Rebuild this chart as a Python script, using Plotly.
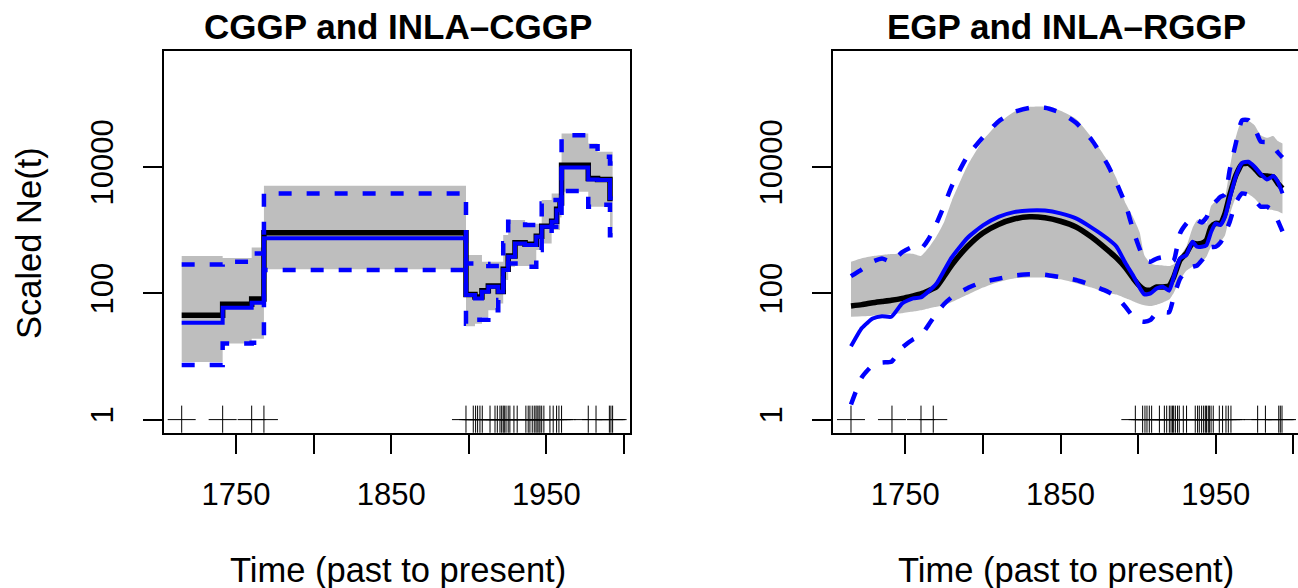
import numpy as np
import plotly.graph_objects as go

W, H = 1298, 588

# ---------------------------------------------------------------- data
# sampling / coalescent times shown as "+" marks at Ne = 1
event_times = [1715.0, 1741.4, 1760.1, 1768.0,
               1898.2, 1902.9, 1904.4, 1905.7, 1907.2, 1908.7, 1913.7, 1916.9, 1918.4,
               1920.1, 1921.2, 1922.2, 1922.9, 1924.0, 1925.4, 1926.5, 1929.1, 1931.2,
               1936.8, 1938.3, 1939.4, 1940.9, 1942.2, 1943.3, 1944.1, 1945.2, 1945.9,
               1947.0, 1948.4, 1952.3, 1954.4, 1956.6, 1958.1, 1959.8,
               1977.0, 1982.0, 1990.6, 1991.6, 1992.7]

# left panel: piecewise-constant estimates (change points and value on each interval)
step_times = [1715.0, 1741.4, 1760.1, 1768.0, 1898.2, 1904.0, 1908.5, 1912.6, 1919.0,
              1922.2, 1925.4, 1929.8, 1936.3, 1943.5, 1947.0, 1953.4, 1956.6, 1958.8,
              1959.8, 1977.0, 1983.0, 1991.0, 1992.7]
cggp_median = [45, 67, 81, 906, 96, 87, 110, 130, 107, 240, 390, 630, 596, 800, 1150,
               1380, 2140, 2690, 10670, 6580, 6300, 3160]
cggp_lower = [8.2, 16, 19, 239, 30, 33, 42, 54, 69, 162, 262, 269, 269, 483, 615, 1000,
              1000, 1585, 4040, 2340, 2340, 783]
cggp_upper = [388, 363, 532, 5020, 402, 402, 315, 315, 315, 834, 1440, 1440, 1260, 1260,
              2985, 3800, 3800, 3800, 33900, 23550, 17340, 17340]
inla_cggp_median = [34, 59, 71, 740, 94, 83, 106, 127, 106, 233, 378, 615, 580, 783, 1127,
                    1352, 2070, 2640, 9820, 6310, 6180, 3180]
inla_cggp_lower = [7.3, 16, 16.5, 233, 33, 38, 38, 54, 78, 172, 297, 297, 263, 483, 740,
                   1127, 1127, 1585, 4140, 2340, 2510, 832]
inla_cggp_upper = [286, 315, 428, 3810, 295, 290, 290, 269, 269, 617, 1352, 1352, 1200,
                   1200, 2640, 2985, 2985, 2985, 31840, 21330, 14450, 11350]

# right panel: smooth estimates, given as log10(Ne) on a time grid
years_r = [1715, 1722, 1729, 1735, 1741, 1748, 1755, 1760, 1765, 1770, 1775, 1780, 1790,
           1800, 1810, 1820, 1830, 1840, 1850, 1860, 1870, 1880, 1886, 1892, 1897, 1901,
           1904, 1908, 1912, 1916, 1920, 1923, 1927, 1931, 1935, 1938, 1941, 1944, 1947,
           1950, 1953, 1956, 1959, 1963, 1967, 1971, 1975, 1979, 1983, 1987, 1990, 1993]
egp_median_log10 = [1.80, 1.82, 1.85, 1.87, 1.89, 1.92, 1.96, 1.99, 2.04, 2.10, 2.27, 2.45,
                    2.74, 2.955, 3.09, 3.175, 3.21, 3.195, 3.14, 3.05, 2.89, 2.69, 2.56,
                    2.40, 2.23, 2.114, 2.06, 2.05, 2.10, 2.10, 2.12, 2.26, 2.525, 2.63,
                    2.79, 2.78, 2.79, 2.84, 3.05, 3.106, 3.106, 3.264, 3.55, 3.87, 4.045,
                    4.056, 3.976, 3.87, 3.855, 3.843, 3.739, 3.66]
egp_lower_log10 = [1.628, 1.635, 1.645, 1.655, 1.67, 1.685, 1.71, 1.732, 1.76, 1.785, 1.81,
                   1.86, 1.975, 2.09, 2.18, 2.235, 2.25, 2.25, 2.22, 2.16, 2.09, 2.005,
                   1.98, 1.92, 1.87, 1.83, 1.81, 1.797, 1.82, 1.855, 1.90, 2.01, 2.21,
                   2.355, 2.42, 2.455, 2.49, 2.578, 2.736, 2.78, 2.815, 2.92, 3.24, 3.52,
                   3.60, 3.57, 3.50, 3.395, 3.33, 3.316, 3.30, 3.264]
egp_upper_log10 = [2.50, 2.555, 2.59, 2.607, 2.62, 2.63, 2.625, 2.59, 2.72, 2.90, 3.13,
                   3.47, 4.02, 4.42, 4.69, 4.87, 4.95, 4.955, 4.89, 4.76, 4.47, 4.11,
                   3.82, 3.42, 3.19, 2.96, 2.60, 2.473, 2.446, 2.44, 2.43, 2.46, 2.59,
                   2.736, 3.03, 3.158, 3.17, 3.106, 3.38, 3.46, 3.527, 3.55, 3.976, 4.476,
                   4.75, 4.73, 4.661, 4.50, 4.46, 4.49, 4.41, 4.372]
inla_rggp_median_log10 = [1.16, 1.45, 1.60, 1.637, 1.628, 1.84, 1.92, 1.935, 2.03, 2.15,
                          2.36, 2.57, 2.875, 3.075, 3.21, 3.285, 3.312, 3.31, 3.265, 3.185,
                          3.04, 2.87, 2.74, 2.47, 2.27, 2.087, 1.982, 1.998, 2.077, 2.104,
                          2.041, 2.263, 2.552, 2.604, 2.815, 2.736, 2.736, 2.76, 2.97,
                          3.106, 3.079, 3.211, 3.50, 3.855, 4.065, 4.081, 4.002, 3.886,
                          3.80, 3.855, 3.764, 3.581]
inla_rggp_lower_log10 = [0.24, 0.67, 0.86, 0.905, 0.916, 1.14, 1.27, 1.33, 1.50, 1.68,
                         1.83, 1.94, 2.08, 2.18, 2.23, 2.28, 2.30, 2.295, 2.255, 2.21,
                         2.13, 2.03, 1.945, 1.78, 1.62, 1.56, 1.549, 1.58, 1.69, 1.705,
                         1.70, 1.95, 2.23, 2.36, 2.42, 2.44, 2.52, 2.62, 2.73, 2.736, 2.80,
                         2.948, 3.13, 3.44, 3.58, 3.56, 3.48, 3.37, 3.37, 3.30, 3.15, 2.98]
inla_rggp_upper_log10 = [2.27, 2.38, 2.50, 2.55, 2.50, 2.65, 2.735, 2.70, 2.86, 3.10,
                         3.39, 3.70, 4.17, 4.47, 4.72, 4.87, 4.935, 4.935, 4.86, 4.70,
                         4.43, 4.05, 3.75, 3.40, 2.98, 2.70, 2.525, 2.50, 2.55, 2.57,
                         2.48, 2.52, 2.948, 3.10, 3.20, 3.16, 3.12, 3.20, 3.37, 3.45,
                         3.527, 3.56, 3.95, 4.38, 4.74, 4.741, 4.62, 4.40, 4.39, 4.32,
                         4.23, 4.15]

x_tickvals = [1750, 1800, 1850, 1900, 1950, 2000]
x_ticktext = ["1750", "", "1850", "", "1950", ""]
y_tickvals = [1, 100, 10000]
y_ticktext = ["1", "100", "10000"]

titles = ["CGGP and INLA\u2013CGGP", "EGP and INLA\u2013RGGP"]
x_title = "Time (past to present)"
y_title = "Scaled Ne(t)"

# ---------------------------------------------------------------- styles
FONT = "Liberation Sans, Arial, Helvetica, sans-serif"
GRAY = "#BEBEBE"
BLUE = "#0000FF"
DASH = "13px,15px"


def steps(vals):
    return list(vals) + [vals[-1]]


fig = go.Figure()


def add_set(xs, lo, hi, med_b, med_i, lo_i, hi_i, xa, ya, shape, smooth):
    common = dict(xaxis=xa, yaxis=ya, mode="lines", showlegend=False, hoverinfo="skip")
    ln = lambda **k: dict(shape=shape, **({"smoothing": smooth} if shape == "spline" else {}), **k)
    fig.add_trace(go.Scatter(x=xs, y=lo, line=ln(width=0, color=GRAY), **common))
    fig.add_trace(go.Scatter(x=xs, y=hi, fill="tonexty", fillcolor=GRAY,
                             line=ln(width=0, color=GRAY), **common))
    fig.add_trace(go.Scatter(x=xs, y=med_b, line=ln(width=5.5, color="black"), **common))
    fig.add_trace(go.Scatter(x=xs, y=med_i, line=ln(width=4, color=BLUE), **common))
    fig.add_trace(go.Scatter(x=xs, y=lo_i, line=ln(width=4.5, color=BLUE, dash=DASH), **common))
    fig.add_trace(go.Scatter(x=xs, y=hi_i, line=ln(width=4.5, color=BLUE, dash=DASH), **common))
    fig.add_trace(go.Scatter(x=event_times, y=[1] * len(event_times), mode="markers",
                             marker=dict(symbol="cross-thin", size=20,
                                         line=dict(width=1, color="black")),
                             xaxis=xa, yaxis=ya, showlegend=False, hoverinfo="skip"))


add_set(step_times, steps(cggp_lower), steps(cggp_upper), steps(cggp_median),
        steps(inla_cggp_median), steps(inla_cggp_lower), steps(inla_cggp_upper),
        "x", "y", "hv", None)

p = lambda a: (10 ** np.array(a)).tolist()
add_set(years_r, p(egp_lower_log10), p(egp_upper_log10), p(egp_median_log10),
        p(inla_rggp_median_log10), p(inla_rggp_lower_log10), p(inla_rggp_upper_log10),
        "x2", "y2", "spline", 0.5)

y_dom = [1 - 432.7 / H, 1 - 51.3 / H]
y_rng = [-0.207, 5.83]

xcommon = dict(showline=True, linecolor="black", linewidth=2, ticks="outside", ticklen=19,
               tickwidth=2, tickcolor="black", tickvals=x_tickvals, ticktext=x_ticktext,
               tickfont=dict(family=FONT, size=31, color="black"), showgrid=False,
               zeroline=False, automargin=False, ticklabelstandoff=14)
ycommon = dict(type="log", showline=True, linecolor="black", linewidth=2, ticks="outside",
               ticklen=19, tickwidth=2, tickcolor="black", tickvals=y_tickvals,
               ticktext=y_ticktext, tickangle=-90,
               tickfont=dict(family=FONT, size=31, color="black"), showgrid=False,
               zeroline=False, automargin=False, domain=y_dom, range=y_rng,
               ticklabelstandoff=18)

fig.update_layout(
    width=W, height=H, margin=dict(l=0, r=0, t=0, b=0), autosize=False,
    paper_bgcolor="white", plot_bgcolor="white",
    xaxis=dict(domain=[164 / W, 630 / W], range=[1703.6, 2003.9], mirror=True,
               anchor="y", **xcommon),
    yaxis=dict(anchor="x", mirror=True, **ycommon),
    xaxis2=dict(domain=[833.3 / W, 1.0], range=[1703.6, 2003.0], mirror=True,
                anchor="y2", **xcommon),
    yaxis2=dict(anchor="x2", mirror=False, **ycommon),
)

ann = []
for cx, t in zip([397.5, 1066.5], titles):
    ann.append(dict(text="<b>%s</b>" % t, x=cx / W, y=1 - 27 / H, xref="paper", yref="paper",
                    xanchor="center", yanchor="middle", showarrow=False,
                    font=dict(family=FONT, size=35, color="black")))
for cx in [398, 1066]:
    ann.append(dict(text=x_title, x=cx / W, y=1 - 570 / H, xref="paper", yref="paper",
                    xanchor="center", yanchor="middle", showarrow=False,
                    font=dict(family=FONT, size=34.5, color="black")))
ann.append(dict(text=y_title, x=29 / W, y=1 - 243 / H, xref="paper", yref="paper",
                xanchor="center", yanchor="middle", showarrow=False, textangle=-90,
                font=dict(family=FONT, size=34.5, color="black")))
fig.update_layout(annotations=ann)

fig.write_html("out.html", config={"displayModeBar": False},
               post_script="document.body.style.margin='0';document.body.style.overflow='hidden';")
